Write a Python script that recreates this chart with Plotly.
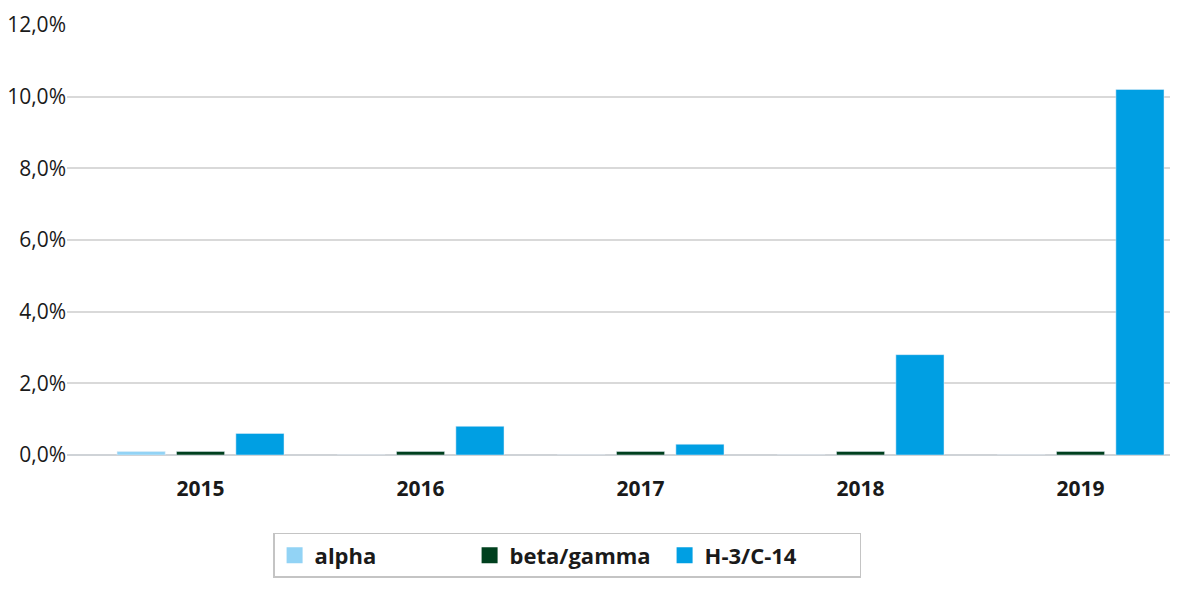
import plotly.graph_objects as go

years = ["2015", "2016", "2017", "2018", "2019"]
alpha = [0.001, 0.0, 0.0, 0.0, 0.0]
beta_gamma = [0.001, 0.001, 0.001, 0.001, 0.001]
h3_c14 = [0.006, 0.008, 0.003, 0.028, 0.102]
y_ticks = [0, 0.02, 0.04, 0.06, 0.08, 0.10, 0.12]

series = [
    ("alpha", alpha, "#92d3f5"),
    ("beta/gamma", beta_gamma, "#00401e"),
    ("H-3/C-14", h3_c14, "#009fe3"),
]

fig = go.Figure()
for name, vals, col in series:
    fig.add_trace(go.Bar(name=name, x=years, y=vals, marker_color=col,
                         showlegend=False, legendgroup=name))
# legend entries with larger square swatches
for name, vals, col in series:
    fig.add_trace(go.Scatter(name=name, x=[None], y=[None], mode="markers",
                             marker=dict(symbol="square", size=22, color=col),
                             showlegend=True, legendgroup=name, hoverinfo="skip"))

fig.update_layout(
    width=1178, height=591,
    margin=dict(l=59, r=8, t=17, b=144, autoexpand=False),
    paper_bgcolor="white", plot_bgcolor="white",
    separators=",.",
    barmode="group", bargap=0.19, bargroupgap=0.19,
    font=dict(family="Open Sans", color="#1a1a1a"),
    showlegend=True,
    legend=dict(
        orientation="h", x=0.1855, xanchor="left", y=-0.181, yanchor="top",
        bordercolor="#c4c4c4", borderwidth=1.5,
        font=dict(size=22, family="Open Sans", weight="bold", color="#1a1a1a"),
        entrywidth=150, itemsizing="trace",
        traceorder="normal",
    ),
)
fig.update_xaxes(
    type="category", range=[-0.607, 4.443], automargin=False,
    showgrid=False, showline=False, ticks="",
    tickfont=dict(size=21, family="Open Sans", weight="bold", color="#1a1a1a"),
    ticklabelstandoff=19,
)
fig.update_yaxes(
    range=[0, 0.12], tickvals=y_ticks, tickformat=".1%", automargin=False,
    showgrid=True, gridcolor="#d9d9d9", gridwidth=1.5,
    zeroline=True, zerolinecolor="#cfd3d7", zerolinewidth=2,
    tickfont=dict(size=21, family="Open Sans", color="#1a1a1a"),
    ticklabelstandoff=0,
)

fig.write_html("out.html")
